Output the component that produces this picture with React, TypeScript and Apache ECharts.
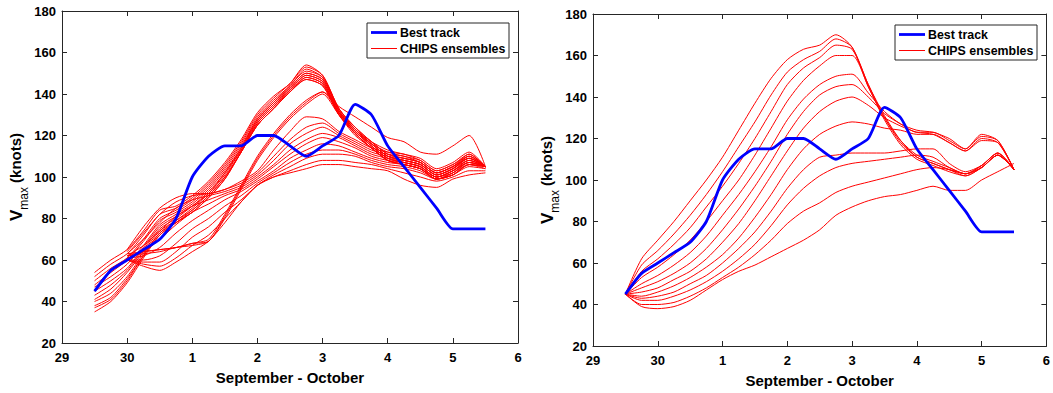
import React, { useEffect, useRef } from "react";
import * as echarts from "echarts";

// Forecast times, in days after 00 UTC 29 September (0 = 29, 2 = 1 Oct ...)
const T = [0.5, 0.75, 1, 1.25, 1.5, 1.75, 2, 2.25, 2.5, 2.75, 3, 3.25, 3.5, 3.75, 4, 4.25, 4.5, 4.75, 5, 5.25, 5.5, 5.75, 6, 6.25, 6.5];
const X_TICK_LABELS = ["29", "30", "1", "2", "3", "4", "5", "6"];

// Observed intensity (knots)
const BEST_TRACK = [45, 55, 60, 65, 70, 80, 100, 110, 115, 115, 120, 120, 115, 110, 115, 120, 135, 130, 115, 105, 95, 85, 75, 75, 75];

// Left panel: first ensemble (upper band)
const L_UP_1 = [54, 60, 65, 74, 84, 86, 91, 98, 107, 118, 131, 139, 145, 154, 149, 133, 124, 117, 111, 109, 107, 102, 105, 111, 105];
const L_UP_2 = [52, 58, 63, 72, 82, 85, 90, 97, 106, 117, 130, 138, 145, 153, 149, 133, 124, 117, 111, 109, 107, 102, 105, 110, 105];
const L_UP_3 = [50, 56, 61, 70, 80, 84, 89, 96, 105, 116, 129, 137, 144, 152, 148, 133, 123, 116, 110, 108, 106, 101, 104, 110, 105];
const L_UP_4 = [48, 54, 60, 69, 79, 83, 88, 95, 104, 115, 128, 136, 144, 151, 148, 132, 123, 116, 110, 108, 106, 101, 104, 109, 105];
const L_UP_5 = [47, 52, 58, 67, 77, 82, 87, 94, 103, 114, 128, 136, 143, 150, 147, 132, 123, 116, 110, 108, 106, 101, 104, 109, 105];
const L_UP_6 = [45, 50, 56, 66, 76, 81, 86, 93, 102, 114, 127, 135, 143, 150, 147, 132, 122, 115, 109, 107, 105, 100, 103, 108, 105];
const L_UP_7 = [43, 48, 55, 65, 75, 80, 86, 92, 102, 113, 127, 135, 142, 149, 146, 131, 122, 115, 109, 107, 105, 100, 103, 108, 105];
const L_UP_8 = [41, 46, 54, 64, 74, 79, 85, 92, 101, 113, 126, 134, 142, 149, 146, 131, 122, 115, 109, 107, 105, 100, 102, 107, 105];
const L_UP_9 = [40, 44, 52, 63, 73, 79, 84, 91, 100, 112, 126, 134, 141, 148, 145, 131, 121, 114, 108, 106, 104, 99, 102, 107, 105];
const L_UP_10 = [38, 42, 51, 62, 73, 78, 84, 91, 100, 112, 125, 133, 141, 148, 145, 130, 121, 114, 108, 106, 104, 99, 101, 106, 105];
const L_UP_11 = [37, 41, 50, 62, 72, 78, 83, 90, 99, 112, 125, 133, 141, 147, 144, 130, 121, 114, 108, 106, 104, 99, 101, 106, 105];
const L_UP_12 = [35, 40, 49, 61, 72, 78, 83, 90, 99, 112, 125, 133, 141, 147, 144, 130, 120, 114, 108, 106, 104, 99, 101, 106, 105];

// Left panel: members peaking near 142 kt
const L_MID_1 = [null, null, 63, 64, 65, 66, 68, 70, 82, 96, 110, 121, 130, 137, 141, 134, 129, 124, 119, 117, 112, 111, 115, 120, 105];
const L_MID_2 = [null, null, 62, 64, 65, 66, 68, 69, 81, 95, 109, 120, 129, 136, 141, 131, 123, 117, 113, 111, 109, 104, 107, 112, 105];
const L_MID_3 = [null, null, 62, 63, 64, 66, 67, 69, 80, 94, 108, 119, 128, 135, 140, 130, 122, 116, 112, 110, 108, 103, 106, 111, 105];

// Left panel: lower band
const L_LOW_1 = [null, null, 65, 76, 85, 90, 92, 92, 94, 98, 103, 113, 122, 129, 128, 122, 118, 114, 112, 111, 108, 103, 106, 110, 105];
const L_LOW_2 = [null, null, 64, 73, 82, 88, 91, 92, 94, 97, 102, 110, 118, 124, 126, 121, 117, 113, 111, 110, 107, 102, 105, 109, 105];
const L_LOW_3 = [null, null, 63, 70, 78, 85, 89, 91, 93, 96, 101, 108, 116, 121, 124, 120, 116, 112, 110, 109, 107, 102, 105, 109, 105];
const L_LOW_4 = [null, null, 62, 67, 74, 81, 86, 89, 92, 95, 100, 106, 113, 118, 121, 119, 115, 111, 109, 108, 106, 101, 104, 108, 105];
const L_LOW_5 = [null, null, 61, 64, 70, 77, 83, 87, 91, 94, 99, 105, 111, 116, 119, 117, 114, 110, 108, 107, 105, 100, 103, 107, 105];
const L_LOW_6 = [null, null, 61, 62, 66, 73, 79, 84, 89, 93, 98, 103, 109, 113, 116, 115, 112, 109, 107, 106, 104, 100, 103, 107, 105];
const L_LOW_7 = [null, null, 60, 60, 62, 68, 75, 80, 86, 91, 97, 102, 107, 111, 113, 113, 111, 108, 106, 105, 103, 99, 102, 106, 104];
const L_LOW_8 = [null, null, 60, 59, 59, 64, 71, 76, 83, 89, 96, 101, 105, 109, 111, 111, 110, 107, 105, 104, 102, 99, 101, 105, 104];
const L_LOW_9 = [null, null, 60, 58, 57, 61, 67, 72, 80, 88, 96, 100, 103, 106, 108, 108, 107, 106, 104, 102, 100, 98, 100, 103, 103];
const L_LOW_10 = [null, null, 60, 57, 55, 59, 64, 69, 78, 88, 96, 100, 102, 104, 106, 106, 105, 104, 103, 99, 96, 95, 99, 101, 102];

// Right panel: second ensemble
const R_1 = [45, 62, 71, 80, 90, 100, 111, 124, 137, 149, 158, 163, 165, 170, 164, 145, 130, 119, 112, 109, 106, 103, 107, 113, 105];
const R_2 = [45, 59, 66, 74, 83, 93, 104, 116, 128, 141, 152, 158, 162, 168, 164, 146, 131, 119, 111, 108, 105, 103, 107, 113, 105];
const R_3 = [45, 56, 62, 69, 77, 87, 97, 108, 120, 133, 146, 154, 159, 165, 163, 146, 130, 118, 111, 108, 105, 102, 106, 112, 105];
const R_4 = [45, 53, 58, 64, 71, 80, 90, 100, 112, 125, 138, 148, 155, 160, 160, 145, 129, 117, 110, 107, 104, 102, 106, 112, 105];
const R_5 = [45, 50, 54, 59, 65, 73, 83, 93, 104, 116, 129, 139, 146, 150, 151, 142, 133, 127, 124, 123, 120, 115, 122, 119, 105];
const R_6 = [45, 48, 51, 55, 60, 67, 76, 86, 97, 109, 122, 133, 141, 145, 146, 140, 132, 127, 123, 123, 119, 115, 121, 119, 105];
const R_7 = [45, 46, 48, 52, 56, 62, 70, 79, 90, 102, 114, 125, 133, 138, 140, 136, 130, 126, 123, 122, 118, 114, 120, 118, 105];
const R_8 = [45, 44, 46, 49, 53, 58, 64, 72, 82, 93, 105, 115, 122, 126, 128, 127, 125, 124, 122, 122, 118, 114, 119, 118, 105];
const R_9 = [45, 43, 44, 46, 50, 54, 60, 67, 75, 85, 96, 105, 111, 112, 113, 113, 113, 114, 115, 115, 108, 104, 107, 113, 105];
const R_10 = [45, 42, 42, 44, 47, 51, 56, 62, 69, 78, 88, 96, 102, 106, 108, 109, 110, 111, 112, 111, 106, 103, 106, 112, 105];
const R_11 = [45, 40, 40, 41, 44, 48, 53, 58, 64, 71, 79, 85, 89, 94, 97, 99, 101, 103, 105, 106, 105, 103, 106, 112, 105];
const R_12 = [45, 39, 38, 39, 42, 47, 52, 56, 59, 63, 67, 71, 76, 83, 87, 90, 92, 93, 95, 97, 95, 95, 100, 104, 108];

const LEFT_MEMBERS = [
  L_UP_1, L_UP_2, L_UP_3, L_UP_4, L_UP_5, L_UP_6, L_UP_7, L_UP_8, L_UP_9, L_UP_10, L_UP_11, L_UP_12,
  L_MID_1, L_MID_2, L_MID_3,
  L_LOW_1, L_LOW_2, L_LOW_3, L_LOW_4, L_LOW_5, L_LOW_6, L_LOW_7, L_LOW_8, L_LOW_9, L_LOW_10,
];
const RIGHT_MEMBERS = [R_1, R_2, R_3, R_4, R_5, R_6, R_7, R_8, R_9, R_10, R_11, R_12];

const FONT = "'Liberation Sans', Arial, sans-serif";
const AXIS_COLOR = "#262626";

function pairs(values: (number | null)[]) {
  const out: [number, number][] = [];
  values.forEach((v, i) => {
    if (v !== null) out.push([T[i], v]);
  });
  return out;
}

function panelAxes(gridIndex: number) {
  const line = { show: true, onZero: false, lineStyle: { color: AXIS_COLOR, width: 1 } };
  const tick = { show: true, inside: true, length: 5, lineStyle: { color: AXIS_COLOR, width: 1 } };
  const label = { color: "#000", fontWeight: "bold" as const, fontSize: 13, fontFamily: FONT };
  const x = [
    {
      type: "value", gridIndex, min: 0, max: 7, interval: 1, position: "bottom",
      axisLine: line, axisTick: tick, splitLine: { show: false },
      axisLabel: { ...label, margin: 8, formatter: (v: number) => X_TICK_LABELS[Math.round(v)] ?? "" },
      name: "September - October", nameLocation: "middle", nameGap: 27,
      nameTextStyle: { color: "#000", fontWeight: "bold", fontSize: 15, fontFamily: FONT },
    },
    {
      type: "value", gridIndex, min: 0, max: 7, interval: 1, position: "top",
      axisLine: line, axisTick: tick, splitLine: { show: false }, axisLabel: { show: false },
    },
  ];
  const y = [
    {
      type: "value", gridIndex, min: 20, max: 180, interval: 20, position: "left",
      axisLine: line, axisTick: tick, splitLine: { show: false },
      axisLabel: { ...label, margin: 6 },
      name: "{v|V}{s|max}{k| (knots)}", nameLocation: "middle", nameRotate: 90, nameGap: 29,
      nameTextStyle: {
        color: "#000", fontFamily: FONT, fontWeight: "bold",
        rich: {
          v: { fontSize: 17, fontWeight: "bold", fontFamily: FONT, color: "#000", lineHeight: 22, verticalAlign: "top" },
          s: { fontSize: 12, fontWeight: "normal", fontFamily: FONT, color: "#000", lineHeight: 22, verticalAlign: "bottom" },
          k: { fontSize: 15, fontWeight: "bold", fontFamily: FONT, color: "#000", lineHeight: 22, verticalAlign: "top" },
        },
      },
    },
    {
      type: "value", gridIndex, min: 20, max: 180, interval: 20, position: "right",
      axisLine: line, axisTick: tick, splitLine: { show: false }, axisLabel: { show: false },
    },
  ];
  return { x, y };
}

function legend(x: number, y: number) {
  const w = 142;
  const h = 35;
  const textStyle = { fontSize: 12.4, fontWeight: "bold", fontFamily: FONT, fill: "#000", verticalAlign: "middle" };
  return {
    type: "group", x, y, z: 100,
    children: [
      { type: "rect", shape: { x: 0, y: 0, width: w, height: h }, style: { fill: "#fff", stroke: AXIS_COLOR, lineWidth: 1 } },
      { type: "line", shape: { x1: 4, y1: 9.5, x2: 30, y2: 9.5 }, style: { stroke: "#0000ff", lineWidth: 2.8 } },
      { type: "text", x: 33, y: 9.5, style: { ...textStyle, text: "Best track" } },
      { type: "line", shape: { x1: 4, y1: 25.5, x2: 30, y2: 25.5 }, style: { stroke: "#ff0000", lineWidth: 1 } },
      { type: "text", x: 33, y: 25.5, style: { ...textStyle, text: "CHIPS ensembles" } },
    ],
  };
}

export default function App() {
  const ref = useRef<HTMLDivElement>(null);

  useEffect(() => {
    if (!ref.current) return;
    const chart = echarts.init(ref.current, undefined, { renderer: "svg" });

    const left = panelAxes(0);
    const right = panelAxes(1);

    const series: any[] = [];
    const addMembers = (members: (number | null)[][], axis: number) => {
      members.forEach((m) => {
        series.push({
          type: "line", name: "CHIPS ensembles", xAxisIndex: axis, yAxisIndex: axis,
          data: pairs(m), symbol: "none", smooth: 0.25, silent: true,
          lineStyle: { color: "#ff0000", width: 1 }, z: 2,
        });
      });
    };
    addMembers(LEFT_MEMBERS, 0);
    addMembers(RIGHT_MEMBERS, 2);
    [0, 2].forEach((axis) => {
      series.push({
        type: "line", name: "Best track", xAxisIndex: axis, yAxisIndex: axis,
        data: pairs(BEST_TRACK), symbol: "none", smooth: 0.2, silent: true,
        lineStyle: { color: "#0000ff", width: 2.8 }, z: 3,
      });
    });

    chart.setOption({
      animation: false,
      backgroundColor: "#fff",
      grid: [
        { left: 62, top: 11, width: 456, height: 332, containLabel: false },
        { left: 593, top: 14, width: 455, height: 332, containLabel: false },
      ],
      xAxis: [...left.x, ...right.x],
      yAxis: [...left.y, ...right.y],
      series,
      graphic: [legend(367, 23), legend(895, 25)],
    });

    return () => chart.dispose();
  }, []);

  return (
    <div
      ref={ref}
      style={{ position: "fixed", left: 0, top: 0, width: 1053, height: 393, background: "#fff" }}
    />
  );
}
